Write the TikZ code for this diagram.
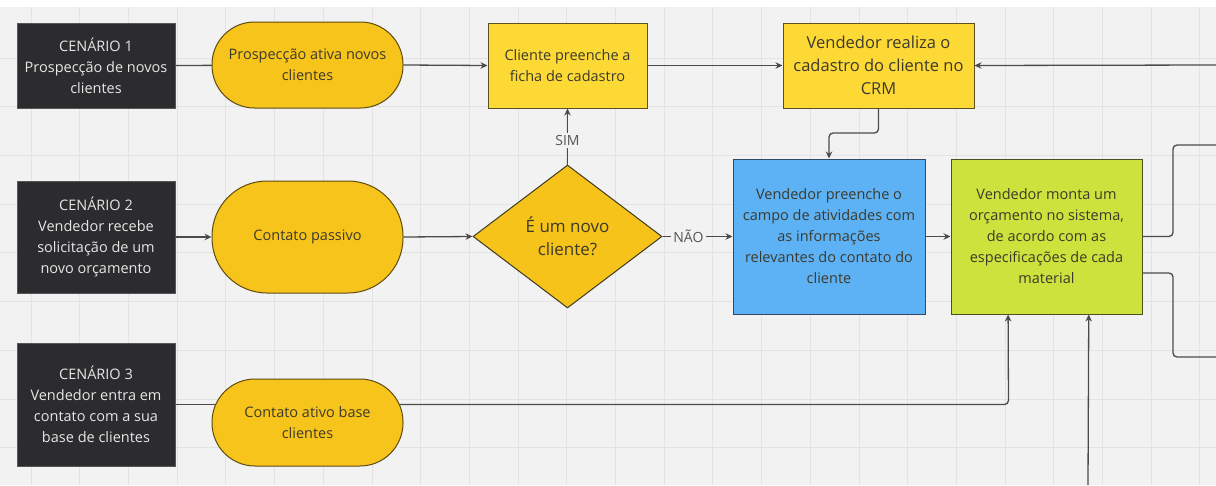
\documentclass[tikz,border=0pt]{standalone}
\usepackage{fontspec}
\setmainfont{Open Sans}
\usetikzlibrary{arrows.meta,shapes.geometric,backgrounds,calc}
\definecolor{bgc}{HTML}{F2F2F2}
\definecolor{gridc}{HTML}{E3E3E3}
\definecolor{darkc}{HTML}{2C2C2F}
\definecolor{darktxt}{HTML}{E6E6E6}
\definecolor{stadc}{HTML}{F7C41B}
\definecolor{stadb}{HTML}{5E4B10}
\definecolor{yelc}{HTML}{FDD935}
\definecolor{yelb}{HTML}{5A5020}
\definecolor{diac}{HTML}{F5C31A}
\definecolor{diab}{HTML}{3F3A20}
\definecolor{bluec}{HTML}{5DB2F6}
\definecolor{blueb}{HTML}{2E4A66}
\definecolor{greenc}{HTML}{CDE23C}
\definecolor{greenb}{HTML}{4A5222}
\definecolor{txtc}{HTML}{3D3A2C}
\definecolor{linec}{HTML}{4B4B4B}
\definecolor{lblc}{HTML}{555555}
\tikzset{
  base/.style={inner sep=0pt, align=center, font=\fontsize{14.5}{21}\selectfont, text=txtc, line width=1pt},
  scen/.style={base, fill=darkc, draw=darkc!80!white, text=darktxt, minimum width=158pt},
  stad/.style={base, fill=stadc, draw=stadb, minimum width=191pt, rounded corners=#1},
  ybox/.style={base, fill=yelc, draw=yelb, minimum height=85pt},
  diam/.style={base, diamond, fill=diac, draw=diab, minimum width=189pt, minimum height=143pt, font=\fontsize{17}{23}\selectfont},
  bbox/.style={base, fill=bluec, draw=blueb, minimum width=192pt, minimum height=155pt},
  gbox/.style={base, fill=greenc, draw=greenb, minimum width=191pt, minimum height=155pt},
  conn/.style={draw=linec, line width=1.3pt},
  bent/.style={rounded corners=4pt},
  arr/.style={conn, -{Stealth[length=7pt,width=6.5pt]}},
  lbl/.style={fill=bgc, text=lblc, inner sep=2.5pt, font=\fontsize{14}{16}\selectfont}
}
\begin{document}
\begin{tikzpicture}[x=1pt,y=-1pt]
\useasboundingbox (0,0) rectangle (1216,485);
% background and grid
\begin{scope}[on background layer]
\fill[bgc] (0,0) rectangle (1216,485);
\fill[white] (0,0) rectangle (1216,7);
\foreach \i in {0,...,24} \draw[gridc, line width=0.8pt] ({31+48.7*\i},7) -- ({31+48.7*\i},485);
\foreach \j in {0,...,8} \draw[gridc, line width=0.8pt] (0,{58+48.7*\j}) -- (1216,{58+48.7*\j});
\end{scope}

% nodes
\node[scen, minimum height=85pt] (C1) at (96,65.5) {CENÁRIO 1\\Prospecção de novos\\clientes};
\node[scen, minimum height=112pt] (C2) at (96,237) {CENÁRIO 2\\Vendedor recebe\\solicitação de um\\novo orçamento};
\node[scen, minimum height=123pt] (C3) at (96,404.5) {CENÁRIO 3\\Vendedor entra em\\contato com a sua\\base de clientes};

\node[stad=42.5pt, minimum height=86pt] (S1) at (307.5,65) {Prospecção ativa novos\\clientes};
\node[stad=55pt, minimum height=112pt] (S2) at (307.5,237) {Contato passivo};
\node[stad=43pt, minimum height=87pt] (S3) at (307.5,422.5) {Contato ativo base\\clientes};

\node[ybox, minimum width=159pt] (B1) at (567.5,65.5) {Cliente preenche a\\ficha de cadastro};
\node[ybox, minimum width=191pt, font=\fontsize{16.5}{23}\selectfont] (B2) at (878.5,65.5) {Vendedor realiza o\\cadastro do cliente no\\CRM};

\node[diam] (D) at (567.5,236.5) {É um novo\\cliente?};
\node[bbox] (BL) at (829,236.5) {Vendedor preenche o\\campo de atividades com\\as informações\\relevantes do contato do\\cliente};
\node[gbox] (G) at (1046.5,236.5) {Vendedor monta um\\orçamento no sistema,\\de acordo com as\\especificações de cada\\material};

% free ends
\coordinate (inR) at (1216,65);
\coordinate (outA) at (1216,145);
\coordinate (outB) at (1216,357);
\coordinate (inB) at (1088,485);

% connectors
\begin{scope}[on background layer]
\draw[conn] (C1.east) -- (S1.center);
\draw[conn] (C3.east) -- (C3.east -| S3.center);
\draw[arr, bent] (C3.east -| S3.center) -- (1008.5,404.5) -- ($(G.south west)!0.3!(G.south east)$);
\end{scope}
\draw[arr] (S1.east) -- (B1.west);
\draw[arr] (B1.east) -- (B2.west);
\draw[arr] (inR) -- (B2.east);
\draw[arr, bent] (B2.south) -- (878.5,133) -- (829,133) -- (BL.north);
\draw[arr] (C2.east) -- (S2.west);
\draw[arr] (S2.east) -- (D.west);
\draw[arr] (D.north) -- node[lbl, pos=0.43] {SIM} (B1.south);
\draw[arr] (D.east) -- node[lbl, pos=0.37] {NÃO} (BL.west);
\draw[arr] (BL.east) -- (G.west);
\draw[conn, bent] (G.east) -- (1173,236.5) -- (1173,145) -- (outA);
\draw[conn, bent] ([yshift=-36.5pt]G.east) -- (1173,273) -- (1173,357) -- (outB);
\draw[arr] (inB) -- ($(G.south west)!0.72!(G.south east)$);
\end{tikzpicture}
\end{document}
